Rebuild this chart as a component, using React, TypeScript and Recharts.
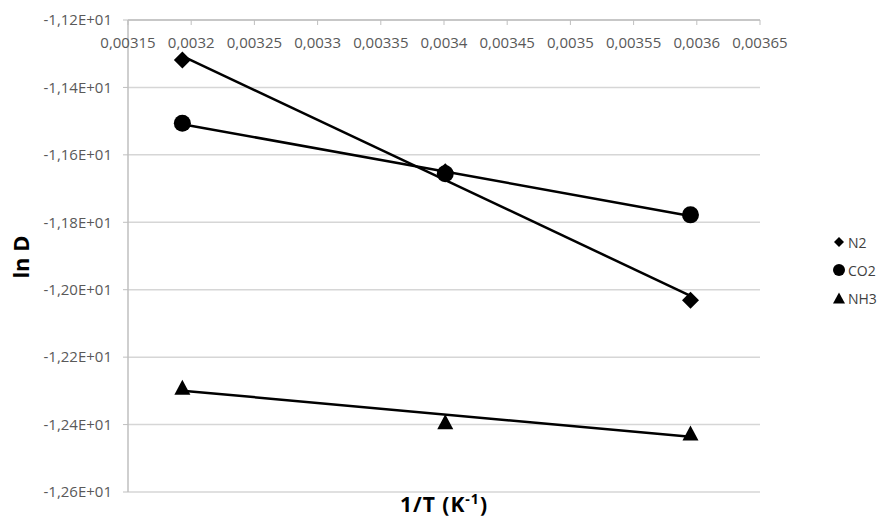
import React from 'react';
import { ScatterChart, Scatter, XAxis, YAxis, CartesianGrid, Legend } from 'recharts';

// 1/T values (K^-1) and ln D for each gas
const invT = [0.003193, 0.003401, 0.003595];
const lnDN2 = [-11.319, -11.65, -12.031];
const lnDCO2 = [-11.506, -11.656, -11.778];
const lnDNH3 = [-12.289, -12.392, -12.425];
const gases = ['N2', 'CO2', 'NH3'];

const xTicks = [0.00315, 0.0032, 0.00325, 0.0033, 0.00335, 0.0034, 0.00345, 0.0035, 0.00355, 0.0036, 0.00365];
const yTicks = [-11.2, -11.4, -11.6, -11.8, -12.0, -12.2, -12.4, -12.6];

const FONT = '"Open Sans", sans-serif';
const GRID = '#d6d6d6';
const AXIS = '#bfbfbf';

const toPoints = (ys: number[]) => invT.map((x, i) => ({ x, y: ys[i] }));
const seriesData = [toPoints(lnDN2), toPoints(lnDCO2), toPoints(lnDNH3)];

const fmtX = (v: number) => String(v).replace('.', ',');
const fmtY = (v: number) => (v / 10).toFixed(2).replace('.', ',') + 'E+01';

const diamondPath = (cx: number, cy: number, r: number) =>
    `M${cx},${cy - r}L${cx + r},${cy}L${cx},${cy + r}L${cx - r},${cy}Z`;
const trianglePath = (cx: number, cy: number, w: number, h: number) =>
    `M${cx},${cy - h / 2}L${cx + w / 2},${cy + h / 2}L${cx - w / 2},${cy + h / 2}Z`;

function marker(kind: number, cx: number, cy: number, small: boolean) {
    if (kind === 0) return <path d={diamondPath(cx, cy, small ? 5 : 8.5)} fill="#000" />;
    if (kind === 1) return <circle cx={cx} cy={cy} r={small ? 6 : 8.5} fill="#000" />;
    return <path d={trianglePath(cx, cy, small ? 12 : 16, small ? 11 : 15)} fill="#000" />;
}

const renderLegend = () => (
    <div style={{ fontFamily: FONT, fontSize: 14, color: '#404040' }}>
        {gases.map((g, i) => (
            <div key={g} style={{ display: 'flex', alignItems: 'center', height: 28 }}>
                <svg width={16} height={16}>{marker(i, 8, 8, true)}</svg>
                <span style={{ marginLeft: 1 }}>{g}</span>
            </div>
        ))}
    </div>
);

const renderYTitle = () => (
    <text x={29} y={257} transform="rotate(-90, 29, 257)" textAnchor="middle"
        fontFamily={FONT} fontSize={22} fontWeight="bold" fill="#000">
        ln D
    </text>
);

const renderXTitle = () => (
    <text x={444} y={512} textAnchor="middle" fontFamily={FONT} fontSize={21} fontWeight="bold" fill="#000" letterSpacing={1}>
        <tspan>1/T (K</tspan>
        <tspan dy={-8} fontSize={14}>-1</tspan>
        <tspan dy={8}>)</tspan>
    </text>
);

export default function App() {
    return (
        <div style={{ position: 'absolute', left: 0, top: 0, background: '#fff' }}>
            <ScatterChart width={888} height={521} margin={{ top: 20, right: 128, bottom: 29, left: 0 }}>
                <CartesianGrid vertical={false} stroke={GRID} strokeWidth={1.5} />
                <XAxis
                    type="number"
                    dataKey="x"
                    orientation="top"
                    mirror
                    domain={[0.00315, 0.00365]}
                    ticks={xTicks}
                    interval={0}
                    tickFormatter={fmtX}
                    tickSize={5}
                    tickMargin={12}
                    axisLine={{ stroke: AXIS, strokeWidth: 1.5 }}
                    tickLine={{ stroke: AXIS }}
                    tick={{ fill: '#595959', fontSize: 15, fontFamily: FONT }}
                    label={renderXTitle}
                />
                <YAxis
                    type="number"
                    dataKey="y"
                    domain={[-12.6, -11.2]}
                    ticks={yTicks}
                    interval={0}
                    tickFormatter={fmtY}
                    width={128}
                    tickSize={5}
                    tickMargin={11}
                    axisLine={{ stroke: AXIS, strokeWidth: 1.5 }}
                    tickLine={{ stroke: AXIS }}
                    tick={{ fill: '#595959', fontSize: 15, fontFamily: FONT }}
                    label={renderYTitle}
                />
                {seriesData.map((d, i) => (
                    <Scatter
                        key={gases[i]}
                        name={gases[i]}
                        data={d}
                        line={{ stroke: '#000', strokeWidth: 2.5 }}
                        lineType="fitting"
                        shape={(p: any) => marker(i, p.cx, p.cy, false)}
                        isAnimationActive={false}
                    />
                ))}
                <Legend
                    layout="vertical"
                    align="center"
                    verticalAlign="middle"
                    content={renderLegend}
                    wrapperStyle={{ left: 831, top: 228, width: 60 }}
                />
            </ScatterChart>
        </div>
    );
}
